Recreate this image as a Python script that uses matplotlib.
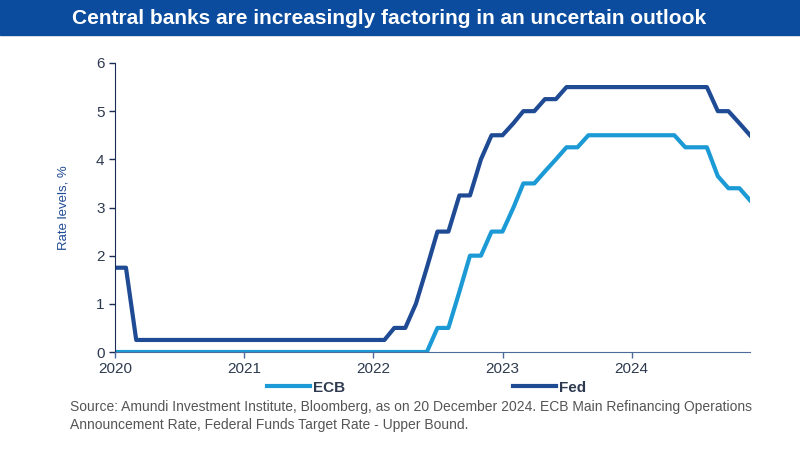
import numpy as np
import pandas as pd
import matplotlib
matplotlib.use("Agg")
import matplotlib.pyplot as plt
import matplotlib.dates as mdates
from matplotlib.patches import Rectangle

plt.rcParams['font.family'] = ['Liberation Sans', 'DejaVu Sans']

# monthly rate levels, Jan 2020 - Dec 2024
months = pd.date_range("2020-01-01", "2024-12-01", freq="MS")

fed = ([1.75, 1.75] + [0.25] * 24 +                       # 2020-01 .. 2022-02
       [0.5, 0.5, 1.0, 1.75, 2.5, 2.5, 3.25, 3.25, 4.0, 4.5] +  # 2022-03 .. 2022-12
       [4.5, 4.75, 5.0, 5.0, 5.25, 5.25] + [5.5] * 6 +    # 2023
       [5.5] * 8 + [5.0, 5.0, 4.75, 4.5])                 # 2024

ecb = ([0.0] * 30 +                                       # 2020-01 .. 2022-06
       [0.5, 0.5, 1.25, 2.0, 2.0, 2.5] +                  # 2022-07 .. 2022-12
       [2.5, 3.0, 3.5, 3.5, 3.75, 4.0, 4.25, 4.25, 4.5, 4.5, 4.5, 4.5] +  # 2023
       [4.5] * 5 + [4.25, 4.25, 4.25, 3.65, 3.4, 3.4, 3.15])             # 2024

years = ["2020", "2021", "2022", "2023", "2024"]

ecb_col = "#1b9ad6"
fed_col = "#1f4a94"
text_col = "#2e3a4f"

fig = plt.figure(figsize=(8, 4.5), dpi=100)
fig.patches.append(Rectangle((0, 415 / 450), 1, 35 / 450, transform=fig.transFigure,
                             color="#0b4c9e", zorder=0))
fig.text(0.486, 432 / 450, "Central banks are increasingly factoring in an uncertain outlook",
         ha="center", va="center", color="white", fontsize=15, fontweight="bold")

ax = fig.add_axes([115 / 800, 98 / 450, 635 / 800, 289 / 450])
ax.plot(months, ecb, color=ecb_col, lw=3, label="ECB", solid_joinstyle="round")
ax.plot(months, fed, color=fed_col, lw=3, label="Fed", solid_joinstyle="round")

ax.set_xlim(months[0], months[-1])
ax.set_ylim(0, 6)
ax.set_yticks(range(7))
ax.set_xticks([pd.Timestamp(y + "-01-01") for y in years])
ax.set_xticklabels(years)

for s in ["top", "right"]:
    ax.spines[s].set_visible(False)
ax.spines["left"].set_color("#1c2b55")
ax.spines["bottom"].set_color("#4d6b9a")
ax.tick_params(axis="both", colors=text_col, labelsize=11, length=4, width=1)
ax.tick_params(axis="x", pad=3)
ax.tick_params(axis="y", color="#1c2b55")
ax.tick_params(axis="x", color="#4d6b9a")
ax.set_ylabel("Rate levels, %", color="#1f4a94", fontsize=9.5, labelpad=19)

leg = ax.legend(loc="upper left", bbox_to_anchor=(138 / 635, -0.052), ncol=2, frameon=False,
                handlelength=2.8, handletextpad=0.2, columnspacing=11.0,
                prop={"size": 11, "weight": "bold"})
for t in leg.get_texts():
    t.set_color(text_col)

fig.text(70 / 800, 1 - 416 / 450,
         "Source: Amundi Investment Institute, Bloomberg, as on 20 December 2024. ECB Main Refinancing Operations\n"
         "Announcement Rate, Federal Funds Target Rate - Upper Bound.",
         ha="left", va="center", color="#555555", fontsize=10, linespacing=1.3)

fig.savefig("out.png", dpi=100)
